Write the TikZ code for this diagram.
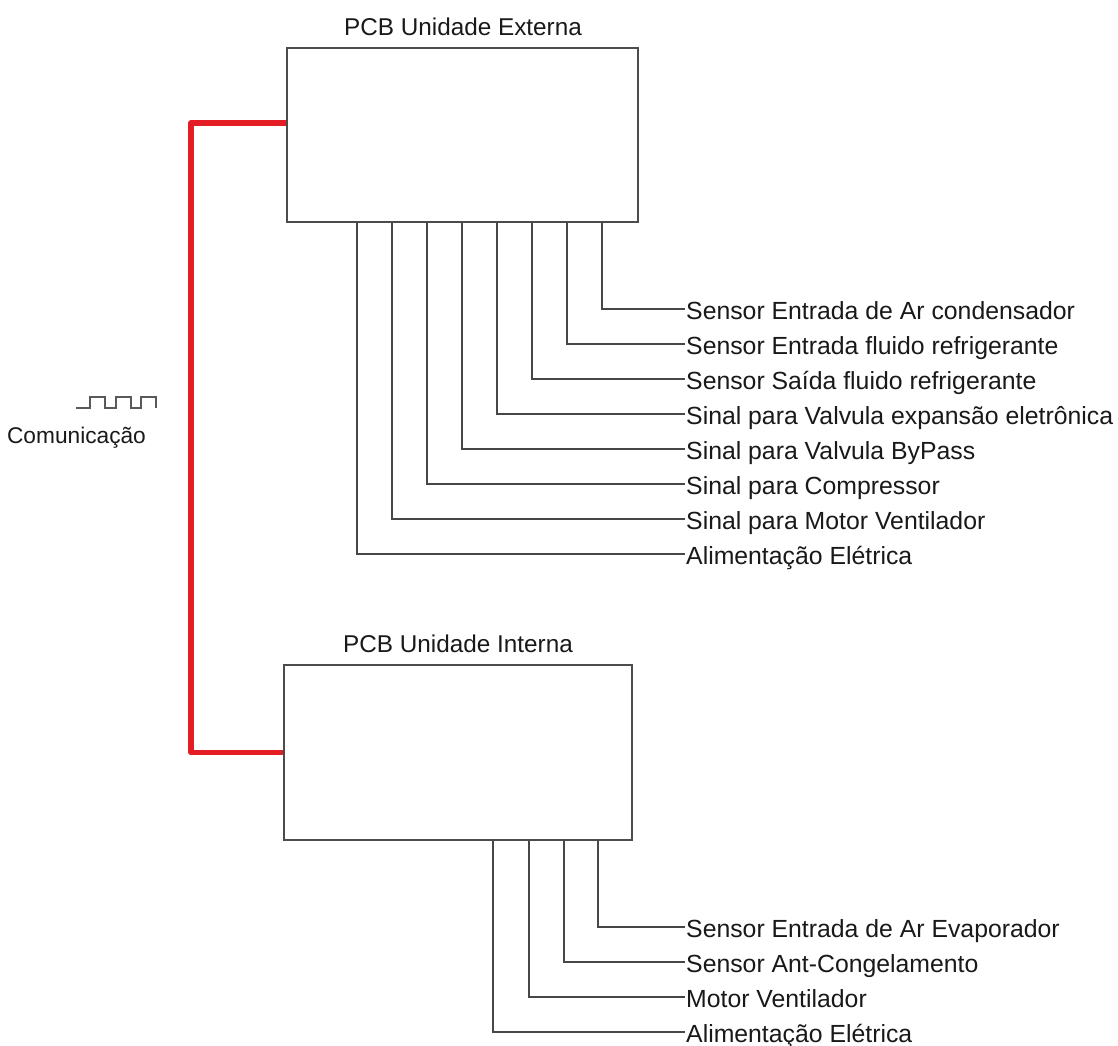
\documentclass[tikz,border=0pt]{standalone}
\usepackage{fontspec}
\setmainfont{Liberation Sans}
\definecolor{commred}{RGB}{228,28,36}
\begin{document}
\begin{tikzpicture}[x=1pt,y=-1pt,
  every node/.style={text=black!90},
  board/.style={draw=black!70, line width=1.8pt, fill=white, inner sep=0pt},
  wire/.style={draw=black!72, line width=1.5pt},
  comm/.style={draw=commred, line width=5.5pt, line join=round},
  lbl/.style={anchor=west, inner xsep=1pt, inner ysep=0pt, text height=20pt, text depth=0pt,
    font=\fontsize{24.8}{28}\selectfont},
  ttl/.style={anchor=base, inner sep=0pt, font=\fontsize{24.3}{28}\selectfont}]
\useasboundingbox (0,0) rectangle (1118,1045);
\fill[white] (0,0) rectangle (1118,1045);

% boards
\node[board, minimum width=351pt, minimum height=174pt] (ext) at (462.5,135) {};
\node[board, minimum width=348pt, minimum height=175pt] (int) at (458,752.5) {};
\node[ttl] (extT) at (463,35) {PCB Unidade Externa};
\node[ttl] (intT) at (458,652) {PCB Unidade Interna};

% pin x positions (external)
\coordinate (e1) at (602,0);
\coordinate (e2) at (567,0);
\coordinate (e3) at (532,0);
\coordinate (e4) at (497,0);
\coordinate (e5) at (462,0);
\coordinate (e6) at (427,0);
\coordinate (e7) at (392,0);
\coordinate (e8) at (357,0);
% labels (external)
\node[lbl] (l1) at (685,309) {Sensor Entrada de Ar condensador};
\node[lbl] (l2) at (685,344) {Sensor Entrada fluido refrigerante};
\node[lbl] (l3) at (685,379) {Sensor Saída fluido refrigerante};
\node[lbl] (l4) at (685,414) {Sinal para Valvula expansão eletrônica};
\node[lbl] (l5) at (685,449) {Sinal para Valvula ByPass};
\node[lbl] (l6) at (685,484) {Sinal para Compressor};
\node[lbl] (l7) at (685,519) {Sinal para Motor Ventilador};
\node[lbl] (l8) at (685,554) {Alimentação Elétrica};
\foreach \i in {1,...,8}{
  \draw[wire] (ext.south -| e\i) |- (l\i.west);
}

% pin x positions (internal)
\coordinate (i1) at (598,0);
\coordinate (i2) at (564,0);
\coordinate (i3) at (529,0);
\coordinate (i4) at (493,0);
\node[lbl] (m1) at (685,927) {Sensor Entrada de Ar Evaporador};
\node[lbl] (m2) at (685,962) {Sensor Ant-Congelamento};
\node[lbl] (m3) at (685,997) {Motor Ventilador};
\node[lbl] (m4) at (685,1032) {Alimentação Elétrica};
\foreach \i in {1,...,4}{
  \draw[wire] (int.south -| i\i) |- (m\i.west);
}

% communication link
\coordinate (c1) at (0,123);
\coordinate (c2) at (191,0);
\draw[comm] (ext.west |- c1) -- (c2 |- c1) |- (int.west);

% pulse symbol and label
\draw[draw=black!65, line width=1.6pt] (76,408) -- (90,408) -- (90,397) -- (105,397) -- (105,408)
  -- (116,408) -- (116,397) -- (131,397) -- (131,408) -- (141,408) -- (141,397)
  -- (156,397) -- (156,408);
\node[ttl, font=\fontsize{22.7}{26}\selectfont] (comT) at (76.5,443) {Comunicação};
\end{tikzpicture}
\end{document}
